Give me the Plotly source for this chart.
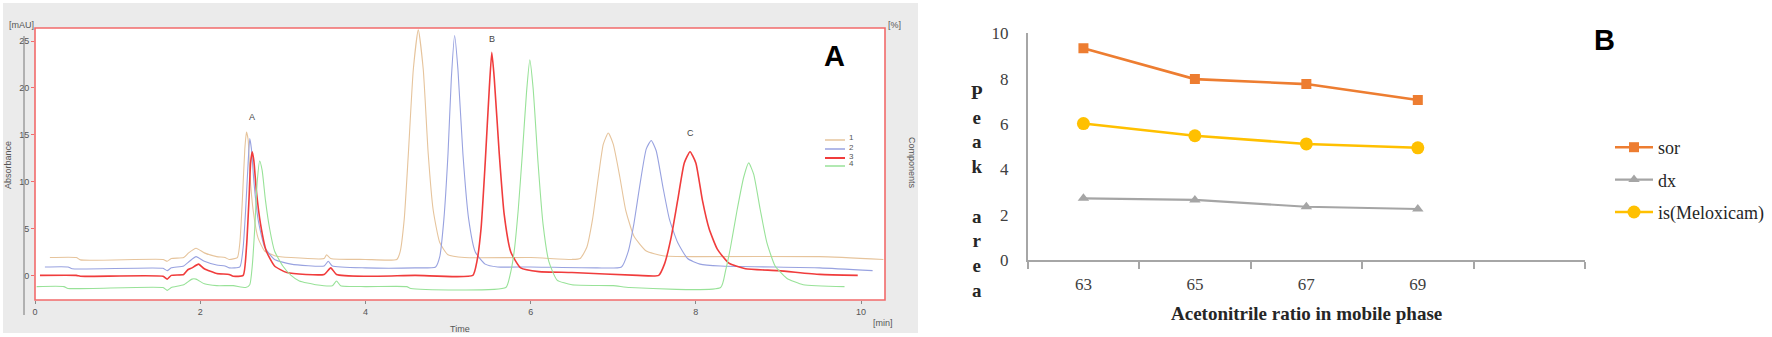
import plotly.graph_objects as go

W, H = 1772, 337

# ---------------- Panel A: chromatograms (time [min], absorbance [mAU]) ----------------
run_names = ["1", "2", "3", "4"]
run_colors = ["#e6c49c", "#98a2e0", "#f03c3c", "#98e298"]
run_widths = [1.1, 1.1, 1.6, 1.1]

run1_t = [0.18, 0.5, 0.55, 1.55, 1.6, 1.65, 1.8, 1.86, 1.95, 2.05, 2.2, 2.3, 2.35, 2.45, 2.48, 2.51, 2.54, 2.56,
          2.58, 2.6, 2.64, 2.7, 2.78, 2.9, 3.1, 3.5, 3.53, 3.58, 4.0, 4.38, 4.42, 4.47, 4.52, 4.58, 4.64, 4.7,
          4.76, 4.82, 4.9, 5.0, 5.2, 6.0, 6.5, 6.6, 6.68, 6.75, 6.82, 6.88, 6.94, 7.0, 7.08, 7.15, 7.25, 7.4,
          7.6, 8.0, 9.5, 10.27]
run1_y = [1.9, 1.9, 1.65, 1.7, 1.5, 1.8, 1.9, 2.4, 2.9, 2.4, 2.0, 1.9, 1.7, 1.9, 3.5, 8.0, 13.5, 15.3,
          14.5, 11.0, 7.0, 4.0, 2.6, 2.1, 1.9, 1.8, 2.2, 1.8, 1.7, 1.7, 2.5, 6.0, 13.0, 22.0, 26.2, 22.0,
          13.0, 7.0, 3.5, 2.2, 1.9, 1.9, 1.7, 1.8, 3.0, 6.0, 10.5, 14.0, 15.2, 14.0, 10.5, 7.0, 4.2, 2.6,
          2.1, 2.0, 2.0, 1.7]

run2_t = [0.12, 0.4, 0.45, 1.55, 1.6, 1.65, 1.8, 1.87, 1.95, 2.05, 2.2, 2.3, 2.35, 2.48, 2.52, 2.55, 2.58, 2.6,
          2.62, 2.65, 2.7, 2.78, 2.9, 3.1, 3.5, 3.55, 3.6, 4.0, 4.6, 4.85, 4.9, 4.95, 5.0, 5.04, 5.08, 5.12,
          5.18, 5.25, 5.33, 5.45, 5.6, 6.0, 6.8, 7.1, 7.18, 7.25, 7.32, 7.4, 7.46, 7.52, 7.6, 7.68, 7.78,
          7.9, 8.05, 8.3, 9.5, 10.14]
run2_y = [0.9, 0.9, 0.7, 0.75, 0.5, 0.8, 1.0, 1.5, 2.0, 1.5, 1.1, 1.0, 0.8, 0.9, 3.0, 7.0, 12.0, 14.6,
          13.5, 10.0, 6.0, 3.0, 1.7, 1.2, 1.0, 1.5, 1.0, 0.8, 0.8, 0.9, 2.0, 6.0, 13.0, 21.0, 25.6, 22.0,
          13.0, 6.0, 2.5, 1.2, 0.9, 0.9, 0.8, 0.9, 2.5, 5.5, 9.5, 13.5, 14.4, 13.3, 9.5, 6.0, 3.5,
          1.8, 1.2, 1.0, 0.8, 0.5]

run3_t = [0.06, 0.5, 0.55, 1.55, 1.6, 1.65, 1.8, 1.85, 1.9, 1.98, 2.05, 2.2, 2.35, 2.4, 2.52, 2.56, 2.59, 2.61,
          2.63, 2.65, 2.68, 2.73, 2.8, 2.9, 3.05, 3.5, 3.58, 3.65, 4.0, 4.6, 5.3, 5.35, 5.4, 5.45, 5.5, 5.53,
          5.56, 5.62, 5.68, 5.76, 5.88, 6.1, 6.5, 7.3, 7.55, 7.62, 7.7, 7.78, 7.86, 7.93, 8.0, 8.08, 8.16,
          8.26, 8.4, 8.6, 9.0, 9.5, 9.96]
run3_y = [0.0, 0.0, -0.1, -0.1, -0.4, 0.0, 0.1, 0.6, 0.8, 1.2, 0.7, 0.2, 0.1, -0.1, 0.0, 3.0, 8.0, 12.0,
          13.2, 12.2, 9.0, 5.5, 2.6, 1.0, 0.3, 0.1, 0.8, 0.1, -0.1, 0.0, 0.0, 1.5, 5.0, 12.0, 20.0, 23.8,
          21.0, 13.0, 6.5, 2.5, 0.8, 0.4, 0.3, 0.0, 0.0, 1.2, 4.0, 8.0, 12.0, 13.2, 12.0, 8.0, 5.0,
          2.8, 1.3, 0.7, 0.5, 0.1, 0.0]

run4_t = [0.02, 0.35, 0.4, 1.55, 1.6, 1.65, 1.8, 1.9, 1.95, 2.05, 2.2, 2.4, 2.55, 2.6, 2.63, 2.66, 2.69, 2.72,
          2.75, 2.79, 2.84, 2.9, 3.0, 3.1, 3.2, 3.4, 3.6, 3.65, 3.7, 4.0, 4.5, 4.55, 5.7, 5.75, 5.8, 5.85,
          5.9, 5.95, 5.99, 6.03, 6.09, 6.15, 6.22, 6.32, 6.5, 7.0, 7.2, 8.3, 8.36, 8.42, 8.5, 8.58, 8.64,
          8.7, 8.78, 8.86, 8.96, 9.1, 9.3, 9.8]
run4_y = [-1.2, -1.2, -1.4, -1.3, -1.6, -1.3, -1.0, -0.4, -0.4, -0.9, -1.1, -1.1, -1.3, -1.0, 1.0, 5.0, 10.0, 12.2,
          11.2, 8.0, 5.0, 2.6, 1.0, 0.0, -0.6, -1.0, -1.1, -0.6, -1.1, -1.2, -1.2, -1.4, -1.3, 0.0, 2.5, 7.0,
          13.0, 19.5, 23.0, 20.0, 12.0, 5.5, 1.5, -0.5, -1.0, -1.1, -1.3, -1.3, 0.5, 3.0, 7.0, 10.5, 12.0,
          10.8, 7.0, 3.5, 1.0, -0.3, -1.0, -1.2]

runs_t = [run1_t, run2_t, run3_t, run4_t]
runs_y = [run1_y, run2_y, run3_y, run4_y]

time_ticks = [0, 2, 4, 6, 8, 10]
abs_ticks = [0, 5, 10, 15, 20, 25]
comp_ticks = [0, 20, 40, 60, 80]
peak_labels = ["A", "B", "C"]
peak_label_t = [2.63, 5.53, 7.93]
peak_label_y = [16.9, 25.2, 15.2]

# ---------------- Panel B: peak area vs acetonitrile ratio ----------------
acn_ratio = [63, 65, 67, 69]
sor_area = [9.34, 7.98, 7.76, 7.06]
dx_area = [2.72, 2.65, 2.35, 2.25]
is_area = [6.02, 5.48, 5.12, 4.95]
y_ticks_b = [0, 2, 4, 6, 8, 10]

def px(x):
    return x / W

def py(y):
    return 1 - y / H

fig = go.Figure()

for name, tt, yy, col, lw in zip(run_names, runs_t, runs_y, run_colors, run_widths):
    fig.add_trace(go.Scatter(x=tt, y=yy, mode="lines", name=name, showlegend=False,
                             line=dict(color=col, width=lw, shape="spline", smoothing=0.5),
                             xaxis="x", yaxis="y", hoverinfo="skip"))

serif = "Liberation Serif, Times New Roman, serif"
fig.add_trace(go.Scatter(x=acn_ratio, y=sor_area, name="sor", mode="lines+markers",
                         line=dict(color="#ed7d31", width=2.6),
                         marker=dict(symbol="square", size=10, color="#ed7d31"),
                         xaxis="x2", yaxis="y3", legendgroup="a"))
fig.add_trace(go.Scatter(x=acn_ratio, y=dx_area, name="dx", mode="lines+markers",
                         line=dict(color="#a5a5a5", width=2.2),
                         marker=dict(symbol="triangle-up", size=10, color="#a5a5a5"),
                         xaxis="x2", yaxis="y3", legendgroup="b"))
fig.add_trace(go.Scatter(x=acn_ratio, y=is_area, name="is(Meloxicam)", mode="lines+markers",
                         line=dict(color="#ffc000", width=2.6),
                         marker=dict(symbol="circle", size=13, color="#ffc000"),
                         xaxis="x2", yaxis="y3", legendgroup="c"))

small = dict(family="Liberation Sans, Arial, sans-serif", size=9, color="#555555")

shapes = [
    dict(type="rect", xref="paper", yref="paper", x0=px(3), x1=px(918), y0=py(333), y1=py(3),
         fillcolor="#ebebeb", line=dict(width=0), layer="below"),
    dict(type="rect", xref="paper", yref="paper", x0=px(35), x1=px(885), y0=py(300), y1=py(28),
         fillcolor="white", line=dict(width=0), layer="below"),
    dict(type="rect", xref="paper", yref="paper", x0=px(35), x1=px(885), y0=py(300), y1=py(28),
         line=dict(color="#f26b6b", width=1.6), layer="above"),
    dict(type="line", xref="paper", yref="paper", x0=px(24), x1=px(24), y0=py(315), y1=py(36),
         line=dict(color="#777777", width=1)),
]
leg_y = [140, 149, 158, 166]
for col, yy, lw in zip(run_colors, leg_y, run_widths):
    shapes.append(dict(type="line", xref="paper", yref="paper", x0=px(825), x1=px(845), y0=py(yy), y1=py(yy),
                       line=dict(color=col, width=lw + 0.4)))

def ann(text, x, y, font, xref="paper", yref="paper", **kw):
    return dict(text=text, x=x, y=y, xref=xref, yref=yref, showarrow=False, font=font,
                xanchor="center", yanchor="middle", **kw)

annotations = [
    ann("[mAU]", px(21), py(25), small),
    ann("[%]", px(894), py(25), small),
    ann("Absorbance", px(8), py(165), small, textangle=-90),
    ann("Components", px(912), py(163), small, textangle=90),
    ann("Time", px(460), py(329), small),
    ann("[min]", px(883), py(323), small),
    ann("<b>A</b>", px(834), py(56), dict(family="Liberation Sans, Arial, sans-serif", size=29, color="black")),
    ann("<b>B</b>", px(1604), py(40), dict(family="Liberation Sans, Arial, sans-serif", size=29, color="black")),
    ann("<b>P<br>e<br>a<br>k<br> <br>a<br>r<br>e<br>a</b>", px(977), py(191),
        dict(family=serif, size=19, color="#262626")),
    ann("<b>Acetonitrile ratio in mobile phase</b>", px(1306), py(313),
        dict(family=serif, size=19, color="#262626")),
]
for name, yy in zip(run_names, leg_y):
    annotations.append(ann(name, px(851), py(yy - 2), dict(family="Liberation Sans, Arial", size=8, color="#555555")))
for lab, tt, yy in zip(peak_labels, peak_label_t, peak_label_y):
    annotations.append(ann(lab, tt, yy, dict(family="Liberation Sans, Arial", size=9, color="#444444"),
                           xref="x", yref="y"))

fig.update_layout(
    width=W, height=H, margin=dict(l=0, r=0, t=0, b=0, pad=0), autosize=False,
    paper_bgcolor="white", plot_bgcolor="rgba(0,0,0,0)",
    shapes=shapes, annotations=annotations,
    xaxis=dict(domain=[px(35), px(885)], range=[0, 10.29], anchor="y", tickvals=time_ticks,
               showgrid=False, zeroline=False, showline=False, ticks="outside", ticklen=3,
               tickcolor="#888888", tickfont=small, automargin=False),
    yaxis=dict(domain=[py(300), py(28)], range=[-2.63, 26.4], anchor="x", tickvals=abs_ticks,
               showgrid=False, zeroline=False, showline=False, ticks="outside", ticklen=3,
               tickcolor="#f26b6b", tickfont=small, automargin=False),
    yaxis2=dict(overlaying="y", side="right", anchor="x", range=[0, 100.4], tickvals=comp_ticks,
                showgrid=False, zeroline=False, showline=False, ticks="outside", ticklen=3,
                tickcolor="#f26b6b", tickfont=small, automargin=False),
    xaxis2=dict(domain=[px(1027.7), px(1585)], anchor="y3", range=[62, 72], tickvals=acn_ratio,
                ticktext=[str(v) for v in acn_ratio], showgrid=False, zeroline=False,
                showline=True, linecolor="#a6a6a6", linewidth=1.5,
                ticks="outside", ticklen=8, tickcolor="rgba(0,0,0,0)",
                minor=dict(tickvals=[62, 64, 66, 68, 70, 72], ticks="outside", ticklen=7,
                           tickcolor="#a6a6a6", tickwidth=1.5, showgrid=False),
                tickfont=dict(family=serif, size=17, color="#404040"), automargin=False),
    yaxis3=dict(domain=[py(260), py(33.3)], anchor="x2", range=[0, 10], tickvals=y_ticks_b,
                showgrid=False, zeroline=False, showline=True, linecolor="#a6a6a6", linewidth=1.5,
                ticks="outside", ticklen=14, tickcolor="rgba(0,0,0,0)",
                tickfont=dict(family=serif, size=17, color="#404040"), automargin=False),
    legend=dict(x=px(1610), y=py(129), xanchor="left", yanchor="top", tracegroupgap=6, itemwidth=38,
                font=dict(family=serif, size=18, color="#262626"), bgcolor="rgba(0,0,0,0)"),
    showlegend=True,
)

post = ("document.documentElement.style.margin='0';document.body.style.margin='0';"
        "document.body.style.padding='0';document.documentElement.style.overflow='hidden';"
        "document.body.style.overflow='hidden';"
        "var d=document.getElementById('{plot_id}');d.style.position='fixed';d.style.top='0px';d.style.left='0px';")
fig.write_html("out.html", config={"displayModeBar": False}, post_script=post)
